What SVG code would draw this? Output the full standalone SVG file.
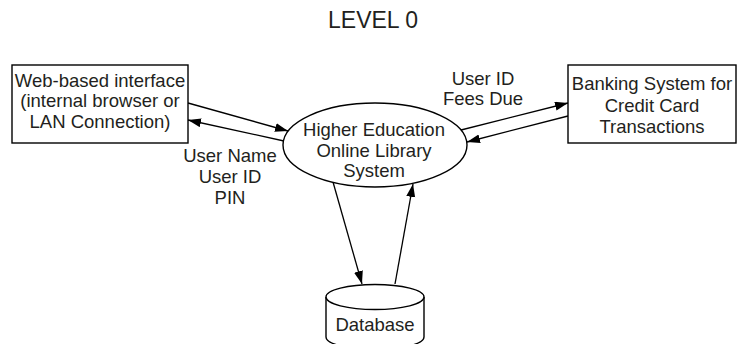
<svg xmlns="http://www.w3.org/2000/svg" width="738" height="344" viewBox="0 0 738 344">
<defs>
<style>
.t{font-family:"Liberation Sans",Arial,sans-serif;font-size:18.5px;fill:#231f20;text-anchor:middle}
.s{fill:#fff;stroke:#000;stroke-width:1.4}
.c{stroke:#000;stroke-width:1.3;fill:none;marker-end:url(#ah)}
</style>
<marker id="ah" markerUnits="userSpaceOnUse" markerWidth="14" markerHeight="10" refX="13" refY="4.5" orient="auto">
<path d="M0,0 L13,4.5 L0,9 z" fill="#000"/>
</marker>
</defs>
<rect width="738" height="344" fill="#fff"/>
<text class="t" x="373" y="28" style="font-size:23px">LEVEL 0</text>
<g id="connectors">
<line class="c" x1="188" y1="103" x2="288" y2="131"/>
<line class="c" x1="284" y1="141" x2="188" y2="120"/>
<line class="c" x1="461" y1="130" x2="568" y2="103"/>
<line class="c" x1="568" y1="116" x2="467" y2="142"/>
<line class="c" x1="333" y1="182" x2="362" y2="284"/>
<line class="c" x1="395" y1="284" x2="413" y2="184"/>
<text class="t" x="230" y="162">User Name</text>
<text class="t" x="230" y="183">User ID</text>
<text class="t" x="230" y="204">PIN</text>
<text class="t" x="483" y="85">User ID</text>
<text class="t" x="483" y="105">Fees Due</text>
</g>
<g id="web">
<rect class="s" x="12" y="65" width="176" height="78"/>
<text class="t" x="100" y="87">Web-based interface</text>
<text class="t" x="100" y="107">(internal browser or</text>
<text class="t" x="100" y="128">LAN Connection)</text>
</g>
<g id="bank">
<rect class="s" x="568" y="65" width="168" height="78"/>
<text class="t" x="652" y="90">Banking System for</text>
<text class="t" x="652" y="112">Credit Card</text>
<text class="t" x="652" y="133">Transactions</text>
</g>
<g id="system">
<ellipse class="s" cx="375" cy="145" rx="92" ry="42"/>
<text class="t" x="374" y="136">Higher Education</text>
<text class="t" x="374" y="157">Online Library</text>
<text class="t" x="374" y="177">System</text>
</g>
<g id="database">
<path class="s" d="M326,297 v40 a49,12.5 0 0 0 98,0 v-40"/>
<ellipse class="s" cx="375" cy="297" rx="49" ry="12.5"/>
<text class="t" x="375" y="331">Database</text>
</g>
</svg>
